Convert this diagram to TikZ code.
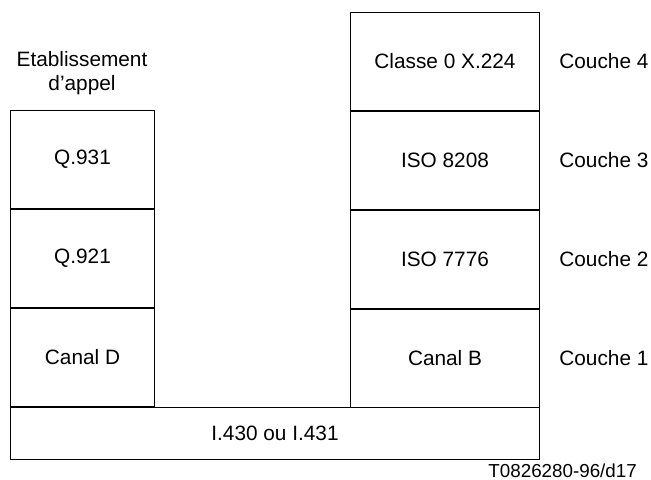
\documentclass[tikz,border=0pt]{standalone}
\usepackage{fontspec}
\setmainfont{Liberation Sans}
\usetikzlibrary{positioning}

\begin{document}
\begin{tikzpicture}[
    x=0.5pt, y=-0.5pt,
    font=\fontsize{10.4}{12}\selectfont,
    lyr/.style={draw, line width=0.5pt, minimum height=49pt, inner sep=0pt,
                anchor=north west},
    lft/.style={lyr, minimum width=72pt},
    rgt/.style={lyr, minimum width=94.5pt},
    lab/.style={anchor=west, inner sep=0pt}]
  \useasboundingbox (0,0) rectangle (651,480);

  % D-channel column
  \node[align=center] (setup) at (82,73) {Etablissement\\d'appel};
  \node[lft] (q931) at (10,110) {Q.931};
  \node[lft, below=0pt of q931] (q921) {Q.921};
  \node[lft, below=0pt of q921] (chd) {Canal D};

  % B-channel column
  \node[rgt] (x224) at (350,12) {Classe 0 X.224};
  \node[rgt, below=0pt of x224] (iso8208) {ISO 8208};
  \node[rgt, below=0pt of iso8208] (iso7776) {ISO 7776};
  \node[rgt, below=0pt of iso7776] (chb) {Canal B};

  % physical interface
  \node[lyr, minimum width=264.5pt, minimum height=26pt] (phys)
    at (chd.south west) {};
  \node at (phys.center) {I.430 ou I.431};

  % layer names
  \node[lab, right=9.5pt of x224] (l4) {Couche 4};
  \node[lab, right=9.5pt of iso8208] (l3) {Couche 3};
  \node[lab, right=9.5pt of iso7776] (l2) {Couche 2};
  \node[lab, right=9.5pt of chb] (l1) {Couche 1};

  \node[lab, anchor=base west, font=\fontsize{9.4}{11}\selectfont] (ref)
    at (488,477) {T0826280-96/d17};
\end{tikzpicture}
\end{document}
